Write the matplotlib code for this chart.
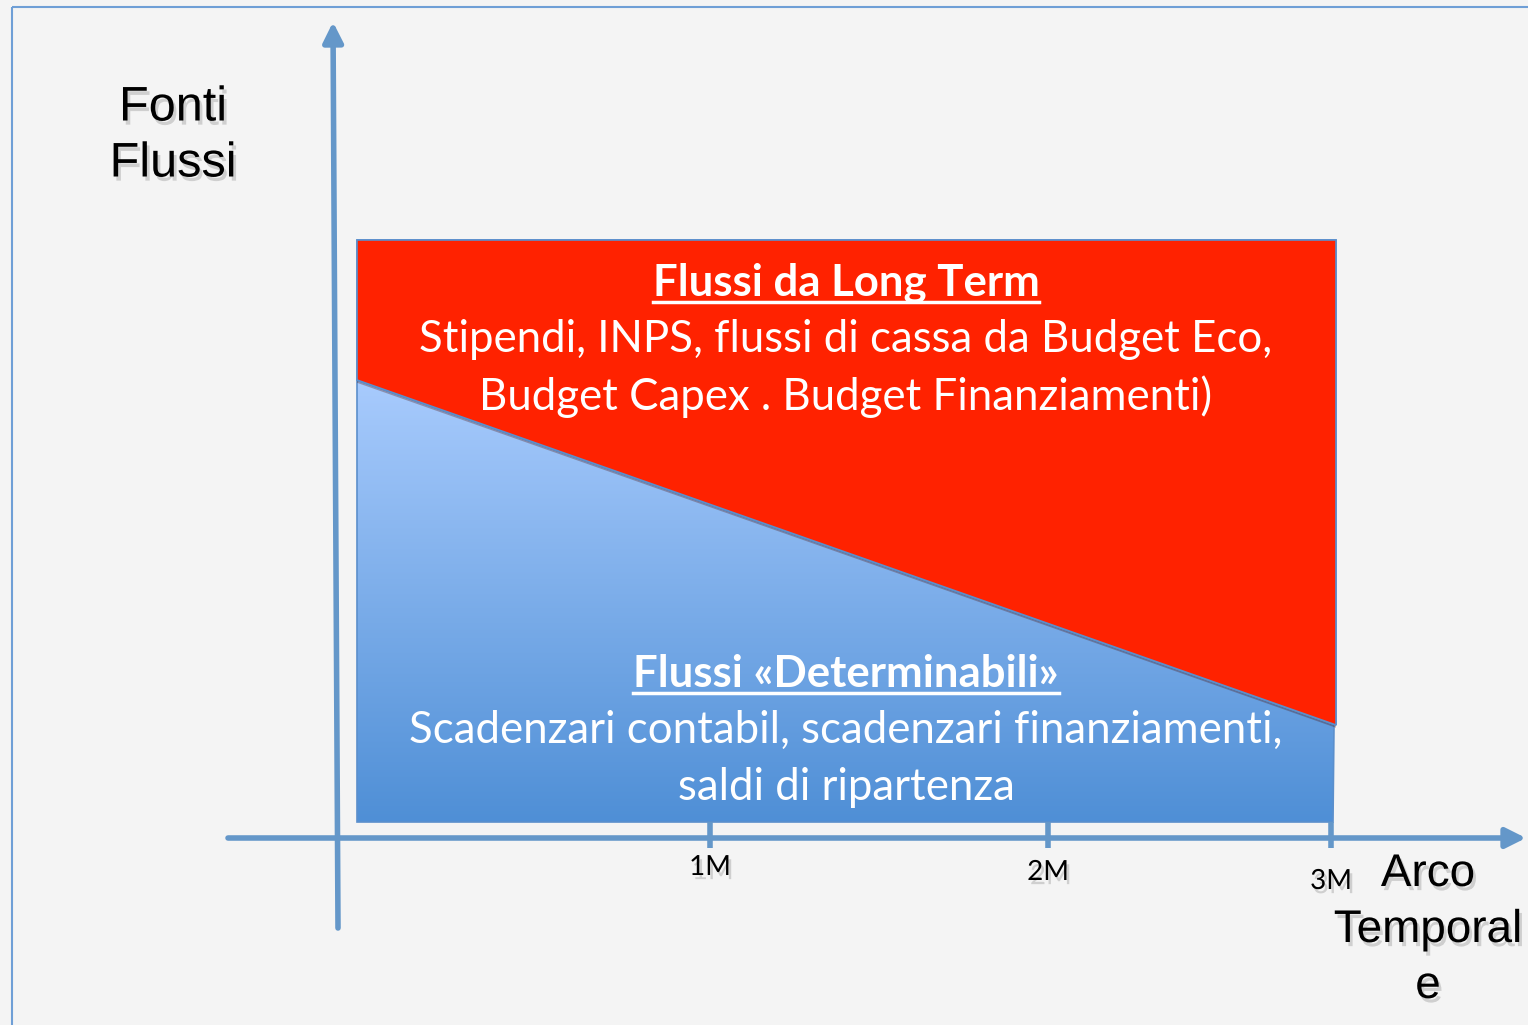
import matplotlib.pyplot as plt
import matplotlib.patheffects as pe
import numpy as np
from matplotlib.patches import Polygon, Rectangle
from matplotlib.colors import LinearSegmentedColormap

# slide layout in pixel units (x right, y down)
tick_labels = ['1M', '2M', '3M']
tick_x = [710, 1048, 1331]
tick_label_y = [867, 872, 881]

blue_area_x = [357, 1334, 1333, 357]
blue_area_y = [380, 725, 822, 822]
red_area_x = [357, 1336, 1336, 357]
red_area_y = [240, 240, 725, 380]

title_top = 'Flussi da Long Term'
body_top = ['Stipendi, INPS, flussi di cassa da Budget Eco,',
            'Budget Capex . Budget Finanziamenti)']
title_bottom = 'Flussi «Determinabili»'
body_bottom = ['Scadenzari contabil, scadenzari finanziamenti,',
               'saldi di ripartenza']

y_label = ['Fonti', 'Flussi']
x_label = ['Arco', 'Temporal', 'e']

axis_blue = '#6497c9'
red = '#ff2200'

fig = plt.figure(figsize=(15.28, 10.25), dpi=100)
fig.patch.set_facecolor('#f4f4f4')
ax = fig.add_axes([0, 0, 1, 1])
ax.set_xlim(0, 1528)
ax.set_ylim(1025, 0)
ax.axis('off')

shadow = [pe.withSimplePatchShadow(offset=(2, -3), shadow_rgbFace='black', alpha=0.15)]

# slide frame
ax.add_patch(Rectangle((12, 7), 1600, 1100, fill=False, edgecolor='#6f9fd6', lw=1.5))

# blue area with vertical gradient
blue_poly = Polygon(list(zip(blue_area_x, blue_area_y)), closed=True,
                    facecolor='none', edgecolor='#5b8fcc', lw=1.2, zorder=3)
ax.add_patch(blue_poly)
grad = np.linspace(0, 1, 256).reshape(-1, 1)
cmap = LinearSegmentedColormap.from_list('bl', ['#a8cbfd', '#4f8fd6'])
img = ax.imshow(grad, cmap=cmap, aspect='auto',
                extent=(min(blue_area_x), max(blue_area_x), max(blue_area_y), min(blue_area_y)),
                zorder=2)
img.set_clip_path(blue_poly)

# red area
ax.add_patch(Polygon(list(zip(red_area_x, red_area_y)), closed=True,
                     facecolor=red, edgecolor='#5b8fcc', lw=1.2, zorder=4,
                     path_effects=[pe.withSimplePatchShadow(offset=(0, -2), alpha=0.3), pe.Normal()]))

# axes arrows
arrow_props = dict(arrowstyle='-|>', color=axis_blue, lw=4, mutation_scale=30, shrinkA=0, shrinkB=0)
ax.annotate('', xy=(333, 22), xytext=(338, 928), arrowprops=arrow_props, zorder=5)
ax.annotate('', xy=(1526, 838), xytext=(228, 838), arrowprops=arrow_props, zorder=5)
for tx in tick_x:
    ax.plot([tx, tx], [822, 848], color=axis_blue, lw=4, zorder=5, solid_capstyle='butt')

for lab, tx, ty in zip(tick_labels, tick_x, tick_label_y):
    ax.text(tx, ty, lab, ha='center', va='center', fontsize=20, family='Lato',
            color='black', path_effects=shadow, zorder=6)

# axis titles
for i, s in enumerate(y_label):
    ax.text(173, 108 + i * 56, s, ha='center', va='center', fontsize=35,
            family='Liberation Sans', path_effects=shadow)
for i, s in enumerate(x_label):
    ax.text(1428, 874 + i * 56, s, ha='center', va='center', fontsize=33,
            family='Liberation Sans', path_effects=shadow)

# area texts
cx = 846
fs = 31.5
t1 = ax.text(cx, 283, title_top, ha='center', va='center', fontsize=fs,
             family='Lato', weight='bold', color='white', zorder=7)
for i, s in enumerate(body_top):
    ax.text(cx, 339 + i * 58, s, ha='center', va='center', fontsize=fs,
            family='Lato', color='white', zorder=7)
t2 = ax.text(cx, 674, title_bottom, ha='center', va='center', fontsize=fs,
             family='Lato', weight='bold', color='white', zorder=7)
for i, s in enumerate(body_bottom):
    ax.text(cx, 730 + i * 58, s, ha='center', va='center', fontsize=fs,
            family='Lato', color='white', zorder=7)

# underline titles
fig.canvas.draw()
inv = ax.transData.inverted()
for t, uy in [(t1, 302), (t2, 693)]:
    bb = t.get_window_extent()
    (x0, _), (x1, _) = inv.transform([[bb.x0, bb.y0], [bb.x1, bb.y1]])
    ax.plot([x0, x1], [uy, uy], color='white', lw=2.5, zorder=7)

fig.savefig('out.png', dpi=100, facecolor=fig.get_facecolor())
